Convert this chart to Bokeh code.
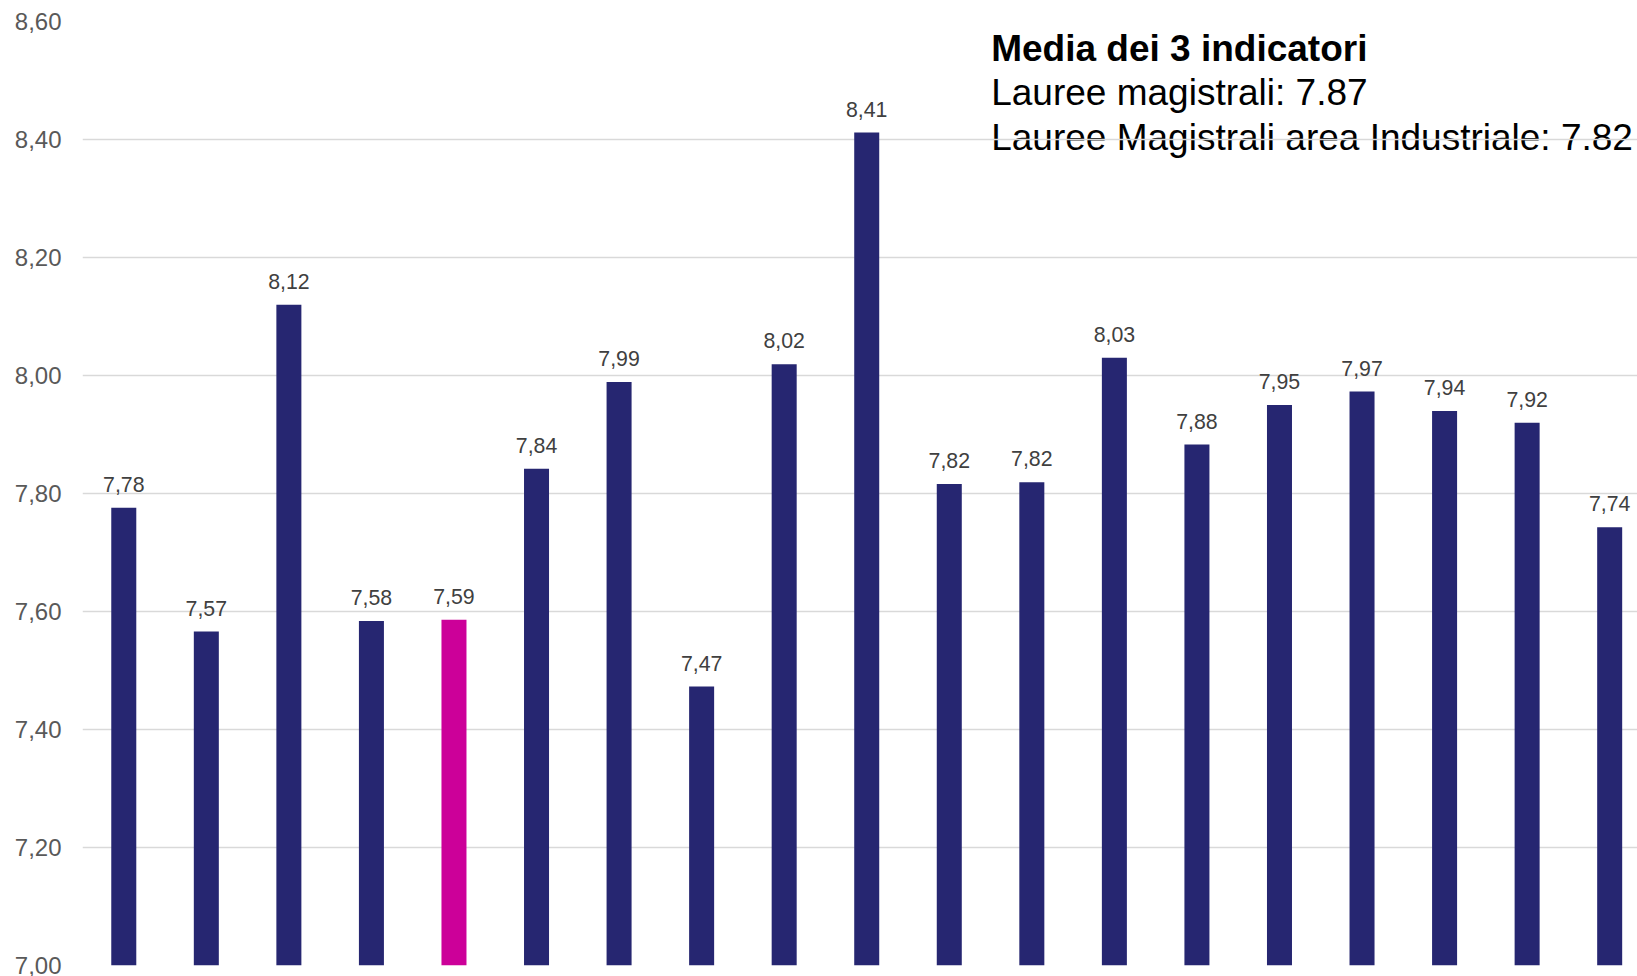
from bokeh.plotting import figure
from bokeh.models import ColumnDataSource, LabelSet, Label, FixedTicker, Range1d, CustomJSTickFormatter
from bokeh.core.properties import value
from bokeh.embed import file_html
from bokeh.resources import INLINE

# ---- data ----
values = [7.776, 7.566, 8.120, 7.584, 7.586, 7.842, 7.989, 7.473, 8.019, 8.412,
          7.816, 7.819, 8.030, 7.883, 7.950, 7.973, 7.940, 7.920, 7.743]
value_labels = ["7,78", "7,57", "8,12", "7,58", "7,59", "7,84", "7,99", "7,47", "8,02", "8,41",
                "7,82", "7,82", "8,03", "7,88", "7,95", "7,97", "7,94", "7,92", "7,74"]
highlight_index = 4
y_ticks = [7.0, 7.2, 7.4, 7.6, 7.8, 8.0, 8.2, 8.4, 8.6]
y_tick_labels = ["7,00", "7,20", "7,40", "7,60", "7,80", "8,00", "8,20", "8,40", "8,60"]
title_line = "Media dei 3 indicatori"
info_lines = ["Lauree magistrali: 7.87", "Lauree Magistrali area Industriale: 7.82"]

NAVY = "#262671"
MAGENTA = "#CC0099"
FONT = "Liberation Sans"

xs = list(range(len(values)))
colors = [MAGENTA if i == highlight_index else NAVY for i in xs]
src = ColumnDataSource(dict(x=xs, top=values, label=value_labels, color=colors))

p = figure(width=1637, height=976, output_backend="svg", toolbar_location=None,
           x_range=Range1d(-0.5, 18.337), y_range=Range1d(y_ticks[0], y_ticks[-1]),
           x_axis_location=None,
           min_border_left=82, min_border_right=0, min_border_top=21, min_border_bottom=11)
p.outline_line_color = None
p.background_fill_color = "white"
p.border_fill_color = "white"

p.vbar(x="x", top="top", bottom=y_ticks[0], width=0.303, fill_color="color",
       line_color=None, source=src)

labels = LabelSet(x="x", y="top", text="label", source=src, y_offset=15.8,
                  text_align="center", text_baseline="alphabetic",
                  text_font=value(FONT), text_font_size="21.3px", text_color="#404040")
p.add_layout(labels)

ax = p.yaxis[0]
ax.ticker = FixedTicker(ticks=y_ticks)
ax.formatter = CustomJSTickFormatter(args=dict(tvals=y_ticks, tlabels=y_tick_labels), code="""
let best = 0;
for (let i = 0; i < tvals.length; i++) {
  if (Math.abs(tvals[i] - tick) < Math.abs(tvals[best] - tick)) best = i;
}
return tlabels[best];
""")
ax.axis_line_color = None
ax.major_tick_line_color = None
ax.minor_tick_line_color = None
ax.major_tick_out = 0
ax.major_tick_in = 0
ax.major_label_standoff = 21
ax.major_label_text_font = FONT
ax.major_label_text_font_size = "24px"
ax.major_label_text_color = "#595959"

p.ygrid.ticker = FixedTicker(ticks=y_ticks)
p.ygrid.grid_line_color = "#d9d9d9"
p.ygrid.grid_line_width = 1.5
p.xgrid.visible = False

# annotation block (drawn below the grid lines, as in the original)
tx = 10.508
p.add_layout(Label(x=tx, y=8.555, text=title_line, text_font=FONT, text_font_size="37px",
                   text_font_style="bold", text_color="black", text_baseline="alphabetic",
                   level="image"))
for yy, t in zip([8.480, 8.404], info_lines):
    p.add_layout(Label(x=tx, y=yy, text=t, text_font=FONT, text_font_size="37px",
                       text_color="black", text_baseline="alphabetic", level="image"))

open("out.html", "w").write(file_html(p, INLINE))
